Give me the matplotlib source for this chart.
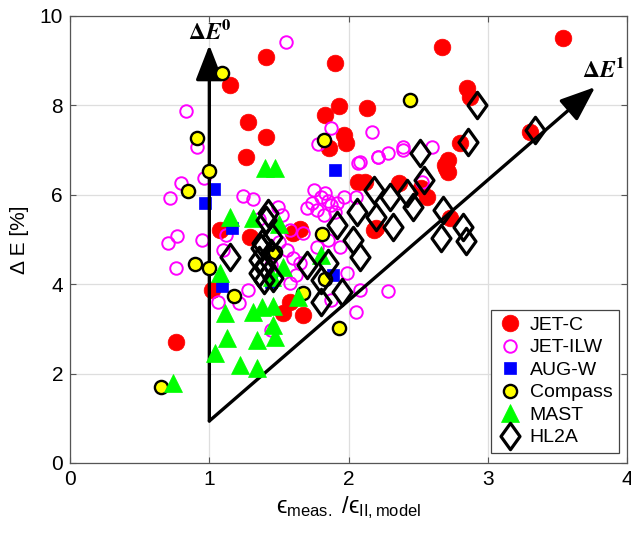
import matplotlib
matplotlib.use("Agg")
import matplotlib.pyplot as plt
from matplotlib.path import Path
import numpy as np

plt.rcParams['font.family'] = ['Liberation Sans', 'DejaVu Sans']
plt.rcParams['mathtext.fontset'] = 'custom'
plt.rcParams['mathtext.rm'] = 'Liberation Sans'
plt.rcParams['mathtext.it'] = 'Liberation Sans:italic'

# ---------------- data ----------------
jetc_x = [3.54, 2.67, 1.41, 1.90, 1.15, 2.85, 2.87, 1.93, 2.13, 1.83, 1.28, 1.97, 1.41, 1.98,
          3.30, 2.80, 1.86, 1.26, 2.71, 2.71, 2.07, 2.12, 2.36, 2.56, 2.73, 2.18, 1.08, 1.60,
          1.65, 1.02, 0.76, 1.53, 1.67, 1.58, 1.29, 2.69, 2.70, 2.20, 2.52]
jetc_y = [9.50, 9.31, 9.08, 8.95, 8.46, 8.39, 8.19, 7.99, 7.94, 7.78, 7.63, 7.34, 7.29, 7.16,
          7.41, 7.16, 7.04, 6.85, 6.78, 6.51, 6.29, 6.29, 6.26, 5.95, 5.48, 5.21, 5.21, 5.14,
          5.23, 3.87, 2.71, 3.36, 3.31, 3.60, 5.05, 6.67, 6.60, 5.26, 6.15]

ilw_x = [1.55, 0.83, 0.91, 0.96, 0.80, 0.72, 0.77, 0.70, 0.76, 0.95, 1.10, 1.24, 1.31, 1.49,
         1.74, 1.80, 1.83, 1.77, 1.82, 1.87, 1.92, 1.97, 2.05, 2.08, 2.21, 2.28, 2.39, 1.67,
         1.58, 1.56, 1.60, 1.58, 1.65, 1.77, 1.85, 1.94, 1.99, 2.08, 2.05, 1.28, 1.21, 1.06,
         1.44, 1.87, 1.44, 1.78, 1.87, 2.17, 2.07, 2.21, 2.39, 2.60, 2.53, 1.36, 1.52, 1.75,
         1.85, 1.90, 1.70, 2.28, 1.12, 1.50, 1.62]
ilw_y = [9.42, 7.87, 7.07, 6.38, 6.26, 5.93, 5.08, 4.92, 4.36, 4.99, 4.76, 5.97, 5.90, 5.73,
         5.82, 5.95, 6.04, 5.66, 5.55, 5.77, 5.82, 5.95, 5.95, 6.73, 6.85, 6.94, 7.00, 5.14,
         5.21, 4.76, 4.59, 4.03, 4.48, 4.83, 4.99, 4.83, 4.25, 3.87, 3.38, 3.87, 3.58, 3.60,
         2.98, 3.65, 4.43, 7.13, 7.49, 7.40, 6.71, 6.85, 7.07, 7.07, 6.29, 5.45, 5.55, 6.10,
         5.85, 5.62, 5.70, 3.85, 5.10, 4.95, 4.20]

aug_x = [1.03, 0.97, 1.90, 1.16, 1.09, 1.89, 1.44]
aug_y = [6.13, 5.82, 6.55, 5.26, 3.96, 4.21, 4.05]

comp_x = [1.09, 0.91, 1.00, 0.85, 1.82, 2.44, 0.90, 1.00, 1.18, 0.65, 1.81, 1.67, 1.93, 1.47, 1.83]
comp_y = [8.72, 7.27, 6.53, 6.08, 7.22, 8.12, 4.45, 4.36, 3.74, 1.70, 5.12, 3.80, 3.02, 4.72, 4.12]

mast_x = [1.40, 1.47, 1.15, 1.31, 1.08, 1.11, 1.31, 1.38, 1.46, 1.13, 1.34, 1.47, 1.46, 1.04,
          1.22, 1.34, 0.74, 1.64, 1.53, 1.80, 1.50, 1.45]
mast_y = [6.60, 6.60, 5.50, 5.48, 4.25, 3.36, 3.38, 3.49, 3.51, 2.80, 2.75, 2.82, 3.09, 2.46,
          2.19, 2.12, 1.79, 3.71, 4.38, 4.65, 5.35, 4.16]

hl2a_x = [3.34, 2.92, 2.86, 2.51, 2.54, 2.18, 2.30, 2.42, 2.46, 2.68, 2.82, 2.84, 2.66, 2.32,
          2.20, 2.06, 1.92, 2.03, 2.08, 1.85, 1.70, 1.95, 1.80, 1.80, 1.15, 1.41, 1.45, 1.38,
          1.36, 1.36, 1.46, 1.39, 1.42, 1.44, 1.37, 1.40]
hl2a_y = [7.45, 8.01, 7.18, 6.93, 6.33, 6.11, 5.95, 6.04, 5.73, 5.66, 5.28, 4.97, 5.03, 5.28,
          5.50, 5.62, 5.32, 4.99, 4.61, 4.47, 4.43, 3.83, 3.60, 4.09, 4.61, 5.44, 5.06, 4.92,
          4.54, 4.25, 4.14, 4.09, 5.59, 4.70, 4.80, 4.40]

arrow_origin = (1.0, 0.94)
arrow0_tip = (1.0, 9.35)
arrow1_tip = (3.77, 8.41)

# ---------------- figure ----------------
fig = plt.figure(figsize=(6.31, 5.35), dpi=100)
ax = fig.add_axes([0.111, 0.1346, 0.883, 0.8355])

ax.set_xlim(0, 4)
ax.set_ylim(0, 10)
ax.set_xticks([0, 1, 2, 3, 4])
ax.set_yticks([0, 2, 4, 6, 8, 10])
ax.grid(True, color='#dedede', lw=0.9)
ax.set_axisbelow(True)
for s in ax.spines.values():
    s.set_color('#555555')
    s.set_linewidth(0.9)
ax.tick_params(direction='in', top=True, right=True, length=4, width=0.8,
               color='#555555', labelsize=15, pad=5)

# arrows
arrowprops = dict(arrowstyle='-|>,head_length=0.9,head_width=0.35', lw=2.4, color='k',
                  shrinkA=0, shrinkB=0, mutation_scale=24)
ax.annotate('', xy=arrow0_tip, xytext=arrow_origin, arrowprops=arrowprops, zorder=3)
ax.annotate('', xy=arrow1_tip, xytext=arrow_origin, arrowprops=arrowprops, zorder=3)
ax.text(1.0, 9.65, r'$\mathbf{\Delta}\boldsymbol{E}^{\mathbf{0}}$', math_fontfamily='stix',
        fontsize=17, ha='center', va='center')
ax.text(3.83, 8.80, r'$\mathbf{\Delta}\boldsymbol{E}^{\mathbf{1}}$', math_fontfamily='stix',
        fontsize=17, ha='center', va='center')

diamond = Path([(0, 1), (0.72, 0), (0, -1), (-0.72, 0), (0, 1)],
               [Path.MOVETO, Path.LINETO, Path.LINETO, Path.LINETO, Path.CLOSEPOLY])

ax.plot(jetc_x, jetc_y, 'o', ls='none', ms=12, mfc='#ff0000', mec='#ff0000', mew=0.5,
        label='JET-C', zorder=2)
ax.plot(ilw_x, ilw_y, 'o', ls='none', ms=9, mfc='none', mec='#ff00ff', mew=1.4,
        label='JET-ILW', zorder=2)
ax.plot(aug_x, aug_y, 's', ls='none', ms=8, mfc='#0000ff', mec='#0000ff', mew=0.5,
        label='AUG-W', zorder=2)
ax.plot(comp_x, comp_y, 'o', ls='none', ms=9.5, mfc='#ffff00', mec='k', mew=1.7,
        label='Compass', zorder=4)
ax.plot(mast_x, mast_y, '^', ls='none', ms=13, mfc='#00ff00', mec='#00ff00', mew=0.5,
        label='MAST', zorder=4)
ax.plot(hl2a_x, hl2a_y, marker=diamond, ls='none', ms=19, mfc='none', mec='k', mew=2.3,
        label='HL2A', zorder=5)

leg = ax.legend(loc='lower right', bbox_to_anchor=(0.986, 0.022), borderaxespad=0,
                fontsize=14, labelspacing=0.25, handletextpad=0.35, handlelength=1.3,
                borderpad=0.35, fancybox=False, framealpha=1, edgecolor='#444444')
leg.get_frame().set_linewidth(0.9)

ax.set_xlabel('\u03f5$_{\\mathrm{meas.}}$ /\u03f5$_{\\mathrm{II,model}}$', fontsize=17,
              labelpad=4)
ax.set_ylabel('Δ E [%]', fontsize=15, labelpad=8)

fig.savefig('out.png', dpi=100)
